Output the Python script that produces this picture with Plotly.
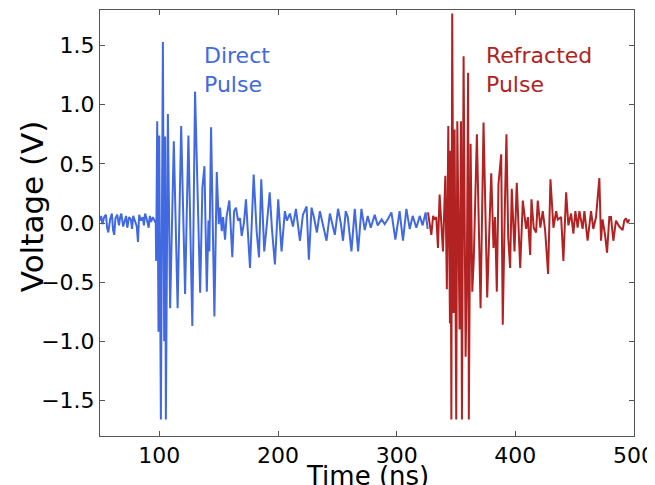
import plotly.graph_objects as go

# ---------------- data ----------------
direct_t = [50, 51, 52, 53.5, 55, 56, 57, 58.5, 60, 61, 62, 63, 64.5, 66, 67, 68, 69.5, 71, 72, 73,
            74.5, 76, 77, 78, 79.5, 81, 82, 83, 84.5, 86, 87, 88, 89.5, 91, 92, 93, 94.5, 96, 97,
            97.3, 98.2, 99.3, 99.9, 101.3, 103.0, 104.1, 104.9, 105.5, 107.2, 109.1, 110.0, 112.2,
            115.4, 118.4, 121.7, 124.5, 127.8, 130.1, 134.4, 136.3, 138.0, 140.0, 141.4, 142.2,
            143.6, 146.4, 148.4, 150.1, 151.2, 152.6, 153.7, 155.4, 156.6, 159.0, 161.5, 163.0,
            164.6, 166.3, 168.0, 169.4, 171.3, 173.0, 176.4, 179.5, 182.0, 184.0, 185.9, 188.4,
            190.7, 193.0, 194.9, 197.4, 200.2, 203.0, 205.8, 207.5, 210.0, 212.6, 215.1, 216.8,
            218.5, 221.0, 224.1, 226.0, 228.3, 230.2, 232.8, 235.3, 237.8, 240.9, 243.7, 246.2,
            247.9, 250.6, 252.9, 254.8, 257.1, 258.8, 261.9, 264.7, 267.5, 270.3, 273.1, 275.6,
            278.2, 281.5, 284.0, 287.4, 289.9, 292.4, 295.6, 298.9, 302.5, 305.3, 308.2, 311.0,
            313.5, 316.6, 319.4, 321.9, 324.4, 326.1]
direct_v = [0.02, 0.06, -0.01, 0.05, 0.07, -0.04, -0.08, 0.03, 0.08, -0.06, -0.10, 0.04, 0.07, -0.02,
            0.05, 0.08, -0.03, 0.02, 0.06, -0.04, 0.05, 0.03, -0.05, 0.06, 0.01, -0.03, -0.16, 0.07,
            0.02, 0.05, -0.02, 0.08, 0.03, -0.04, 0.06, 0.01, 0.05, 0.02, 0.00,
            -0.32, 0.86, -0.92, 0.74, -1.66, 1.53, -1.00, 0.73, -1.66, 0.92, -0.72, -0.21, 0.69,
            -0.72, 0.82, -0.60, 0.74, -0.87, 1.11, -0.59, 0.30, 0.48, -0.58, 0.02, -0.24,
            0.81, -0.79, 0.43, -0.01, 0.13, -0.07, 0.05, -0.14, 0.05, 0.19, -0.29, 0.10,
            0.13, 0.02, 0.04, -0.11, 0.00, 0.20, -0.38, 0.41, -0.07, -0.29, 0.37, -0.24,
            0.00, 0.26, -0.05, -0.35, 0.20, -0.24, 0.10, 0.02, 0.08, -0.03, 0.12, 0.00,
            -0.15, 0.07, 0.14, -0.31, 0.13, 0.05, -0.08, 0.10, -0.02, -0.15, 0.08, -0.02,
            -0.10, 0.12, 0.00, -0.15, 0.10, 0.05, -0.24, 0.12, -0.24, 0.12, -0.06, 0.06,
            -0.04, 0.07, -0.02, 0.03, -0.01, 0.03, 0.09, -0.14, 0.10, -0.15, 0.12, -0.05,
            0.06, -0.04, 0.06, -0.02, 0.09, -0.05]

refracted_t = [326.4, 327.8, 329.2, 330.7, 332.0, 333.4, 334.8, 336.2, 337.6, 339.0, 341.0, 342.3,
               343.5, 344.9, 345.4, 346.1, 346.8, 348.0, 348.8, 350.2, 351.1, 353.0, 354.2, 355.0,
               356.4, 358.1, 359.2, 360.2, 360.8, 362.3, 363.7, 365.0, 367.6, 370.7, 373.2, 376.3,
               378.3, 379.7, 381.6, 382.9, 384.4, 385.8, 388.1, 389.4, 391.3, 392.5, 394.0, 395.6,
               397.0, 399.3, 401.2, 404.1, 406.3, 409.1, 410.6, 412.5, 413.6, 415.5, 417.5, 418.9,
               421.1, 423.1, 425.1, 427.6, 429.6, 432.1, 434.4, 435.7, 438.6, 440.5, 442.8, 444.7,
               447.0, 448.9, 450.6, 452.5, 454.0, 456.7, 458.2, 460.9, 463.8, 465.7, 468.0, 470.8,
               472.2, 473.5, 475.6, 477.3, 479.2, 480.6, 482.6, 484.8, 487.6, 490.4, 491.8, 493.2,
               494.7, 496.0]
refracted_v = [0.09, -0.02, -0.10, 0.06, 0.03, 0.05, -0.21, 0.24, 0.02, -0.24, 0.40, -0.56,
               0.82, -0.85, 0.61, -1.66, 1.77, -0.76, 0.79, -1.66, 0.86, -0.90, 0.86, -1.66,
               1.41, -1.13, -0.35, 1.27, -1.66, 0.67, -0.58, -0.30, 0.75, -0.72, 0.85, -0.63,
               0.00, 0.42, -0.21, 0.05, -0.58, 0.33, 0.58, -0.86, 0.20, 0.75, -0.12, -0.38,
               0.29, -0.24, 0.34, -0.38, 0.19, -0.05, 0.05, -0.27, 0.20, -0.04, -0.08, 0.19,
               -0.04, 0.10, -0.06, -0.43, 0.37, -0.04, 0.10, 0.03, 0.05, -0.32, 0.26, -0.02,
               0.08, -0.09, 0.10, -0.04, 0.10, -0.05, 0.10, -0.15, 0.10, -0.05, 0.05, 0.38,
               -0.15, 0.03, -0.10, -0.25, 0.05, 0.05, -0.15, 0.02, -0.03, -0.06, 0.02, 0.04,
               0.00, 0.03]

x_ticks = [100, 200, 300, 400, 500]
y_ticks = [-1.5, -1.0, -0.5, 0.0, 0.5, 1.0, 1.5]
y_tick_text = ["\u22121.5", "\u22121.0", "\u22120.5", "0.0", "0.5", "1.0", "1.5"]

BLUE = "#4169E1"
RED = "#B22222"
FONT = "DejaVu Sans"

fig = go.Figure()
fig.add_trace(go.Scatter(x=direct_t, y=direct_v, mode="lines",
                         line=dict(color=BLUE, width=2), showlegend=False))
fig.add_trace(go.Scatter(x=refracted_t, y=refracted_v, mode="lines",
                         line=dict(color=RED, width=2), showlegend=False))

fig.add_annotation(x=136, y=1.045, xref="x", yref="y", text="Direct<br>Pulse",
                   showarrow=False, xanchor="left", yanchor="bottom", align="left",
                   font=dict(family=FONT, size=22, color=BLUE))
fig.add_annotation(x=374, y=1.045, xref="x", yref="y", text="Refracted<br>Pulse",
                   showarrow=False, xanchor="left", yanchor="bottom", align="left",
                   font=dict(family=FONT, size=22, color=RED))

# axis titles
fig.add_annotation(x=0.5, y=-0.053, xref="paper", yref="paper", text="Time (ns)",
                   showarrow=False, xanchor="center", yanchor="top",
                   font=dict(family=FONT, size=26, color="black"))
fig.add_annotation(x=-0.127, y=0.54, xref="paper", yref="paper", text="Voltage (V)",
                   showarrow=False, xanchor="center", yanchor="middle", textangle=-90,
                   font=dict(family=FONT, size=31, color="black"))

axis_common = dict(showline=True, linecolor="#555555", linewidth=1, mirror="ticks",
                   ticks="inside", ticklen=5, tickcolor="#555555", showgrid=False,
                   zeroline=False, automargin=False,
                   tickfont=dict(family=FONT, size=22, color="black"))

fig.update_xaxes(range=[50, 500], tickvals=x_ticks, ticktext=[str(v) for v in x_ticks],
                 **axis_common)
fig.update_yaxes(range=[-1.8, 1.8], tickvals=y_ticks, ticktext=y_tick_text,
                 **axis_common)

# the page body adds an 8 px margin; size and margins compensate for it
fig.update_layout(width=647, height=477, plot_bgcolor="white", paper_bgcolor="white",
                  margin=dict(l=92, r=21, t=2, b=49, autoexpand=False),
                  font=dict(family=FONT))

fig.write_html("out.html")
